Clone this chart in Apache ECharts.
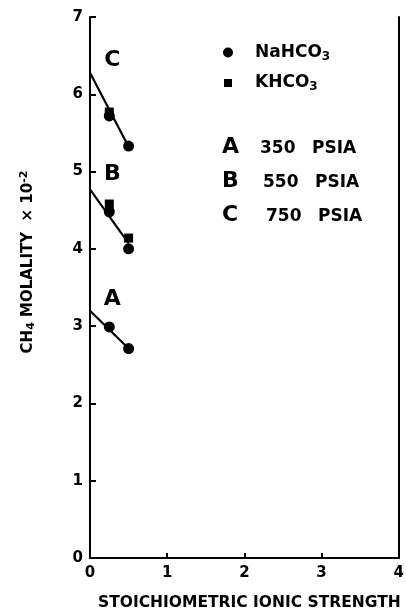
<!DOCTYPE html>
<html><head><meta charset="utf-8">
<script src="https://cdn.jsdelivr.net/npm/echarts@6/dist/echarts.min.js"></script>
<style>html,body{margin:0;padding:0;background:#fff}#c{width:407px;height:616px}</style>
</head><body><div id="c"></div>
<script>
// Data
const ionicStrength = [0.25, 0.5];
const naA = [2.99, 2.71];
const naB = [4.48, 4.00];
const naC = [5.72, 5.33];
const kX = [0.25, 0.5, 0.25];
const kY = [4.58, 4.14, 5.77];
const fitX = [0, 0.5];
const fitA = [3.20, 2.71];
const fitB = [4.77, 4.07];
const fitC = [6.28, 5.32];
const curveNames = ['A', 'B', 'C'];
const curveLabelX = [0.29, 0.29, 0.29];
const curveLabelY = [3.35, 4.96, 6.44];
const pressures = ['350', '550', '750'];
const xTicks = [0, 1, 2, 3, 4];
const yTicks = [0, 1, 2, 3, 4, 5, 6, 7];

const FONT = 'DejaVu Sans';
const pair = (xs, ys) => xs.map((x, i) => [x, ys[i]]);
const naData = [].concat(pair(ionicStrength, naA), pair(ionicStrength, naB), pair(ionicStrength, naC));
const kData = pair(kX, kY);

const chart = echarts.init(document.getElementById('c'), null, {renderer: 'canvas'});
const fitSeries = [fitA, fitB, fitC].map((f, i) => ({
  type: 'line', name: 'fit' + curveNames[i], data: pair(fitX, f),
  symbol: 'none', lineStyle: {color: '#000', width: 2.2}, silent: true, z: 2
}));
chart.setOption({
  animation: false,
  backgroundColor: '#fff',
  grid: {left: 90, right: 5, top: 17, bottom: 56},
  legend: {
    orient: 'vertical', left: 222, top: 44, itemGap: 12, padding: 0,
    itemWidth: 12, itemHeight: 12,
    data: [
      {name: 'NaHCO3', icon: 'path://M0,0 M12,12 M1,6 a5,5 0 1,0 10,0 a5,5 0 1,0 -10,0 z'},
      {name: 'KHCO3', icon: 'path://M0,0 M12,12 M2,2 h8 v8 h-8 z'}
    ],
    formatter: n => '{b|' + n.slice(0, -1) + '}{s|3}',
    itemStyle: {opacity: 1},
    textStyle: {
      fontFamily: FONT, fontWeight: 'bold', color: '#000',
      rich: {
        b: {fontFamily: FONT, fontWeight: 'bold', fontSize: 17, color: '#000', padding: [0, 0, 0, 16]},
        s: {fontFamily: FONT, fontWeight: 'bold', fontSize: 12, color: '#000', verticalAlign: 'bottom', padding: [8, 0, 0, 0]}
      }
    }
  },
  xAxis: {
    type: 'value', min: 0, max: 4, interval: 1,
    name: 'STOICHIOMETRIC IONIC STRENGTH', nameLocation: 'middle', nameGap: 37,
    nameTextStyle: {fontFamily: FONT, fontWeight: 'bold', fontSize: 15.5, color: '#000', padding: [0, 0, 0, 10]},
    axisLine: {lineStyle: {color: '#000', width: 2}},
    axisTick: {inside: true, length: 5, lineStyle: {color: '#000', width: 2}},
    axisLabel: {fontFamily: FONT, fontWeight: 'bold', fontSize: 15, color: '#000', margin: 8,
      formatter: v => xTicks.includes(v) ? String(v) : ''},
    splitLine: {show: false}
  },
  yAxis: [{
    type: 'value', min: 0, max: 7, interval: 1,
    axisLine: {show: true, lineStyle: {color: '#000', width: 2}},
    axisTick: {show: true, inside: true, length: 6, lineStyle: {color: '#000', width: 2}},
    axisLabel: {fontFamily: FONT, fontWeight: 'bold', fontSize: 15, color: '#000', margin: 7,
      formatter: v => yTicks.includes(v) ? String(v) : ''},
    splitLine: {show: false}
  }, {
    type: 'value', min: 0, max: 7, position: 'right',
    axisLine: {show: true, lineStyle: {color: '#000', width: 2}},
    axisTick: {show: false}, axisLabel: {show: false}, splitLine: {show: false}
  }],
  graphic: [
    {
      type: 'text', x: 28, y: 262, rotation: Math.PI / 2,
      style: {
        text: '{b|CH}{s|4}{b| MOLALITY  × 10}{p|-2}',
        align: 'center', verticalAlign: 'middle',
        rich: {
          b: {fontFamily: FONT, fontWeight: 'bold', fontSize: 15, fill: '#000'},
          s: {fontFamily: FONT, fontWeight: 'bold', fontSize: 11, fill: '#000', padding: [6, 0, 0, 0]},
          p: {fontFamily: FONT, fontWeight: 'bold', fontSize: 11, fill: '#000', padding: [0, 0, 8, 0]}
        }
      }
    }
  ].concat(curveNames.map((n, i) => ({
    type: 'group', left: 222, top: 136 + i * 34,
    children: [
      {type: 'text', x: 0, y: 0, style: {text: n, fontFamily: FONT, fontWeight: 'bold', fontSize: 22, fill: '#000'}},
      {type: 'text', x: 38 + i * 3, y: 4, style: {text: pressures[i], fontFamily: FONT, fontWeight: 'bold', fontSize: 17, fill: '#000'}},
      {type: 'text', x: 90 + i * 3, y: 4, style: {text: 'PSIA', fontFamily: FONT, fontWeight: 'bold', fontSize: 17, fill: '#000'}}
    ]
  }))),
  series: fitSeries.concat([
    {
      type: 'scatter', name: 'KHCO3', data: kData, symbol: 'rect', symbolSize: 9,
      itemStyle: {color: '#000', opacity: 1}, z: 3
    },
    {
      type: 'scatter', name: 'NaHCO3', data: naData, symbol: 'circle', symbolSize: 11,
      itemStyle: {color: '#000', opacity: 1}, z: 4
    },
    {
      type: 'scatter', name: 'labels', symbolSize: 0, silent: true,
      itemStyle: {opacity: 1},
      data: curveNames.map((n, i) => ({value: [curveLabelX[i], curveLabelY[i]], name: n})),
      label: {show: true, position: 'inside', formatter: p => p.name, opacity: 1,
        fontFamily: FONT, fontWeight: 'bold', fontSize: 22, color: '#000'}
    }
  ])
});
</script></body></html>
